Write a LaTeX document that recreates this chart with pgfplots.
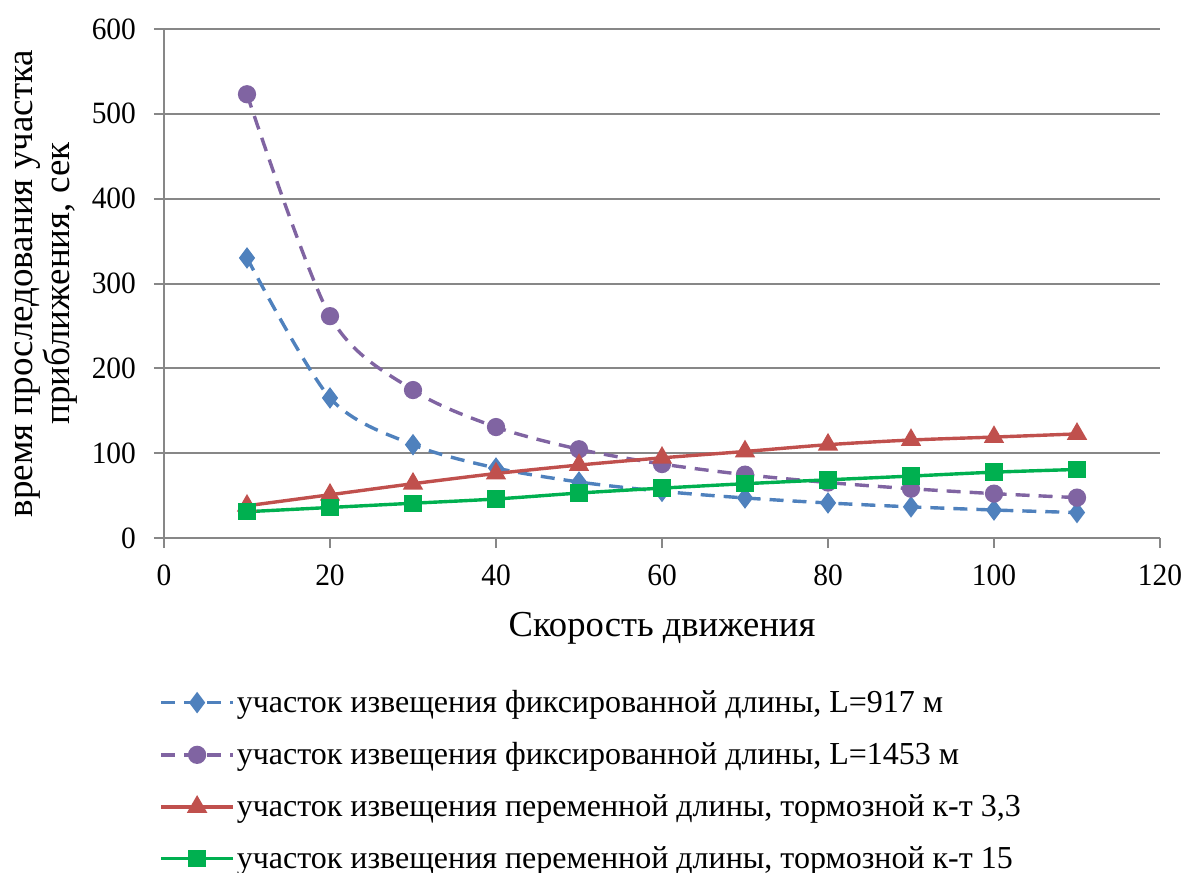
\documentclass[border=0pt]{standalone}
\usepackage{fontspec}
\setmainfont{Liberation Serif}
\newfontfamily\tickfont[FakeStretch=0.95]{Liberation Serif}
\usepackage{pgfplots}
\pgfplotsset{compat=1.18}
\definecolor{cblue}{HTML}{4F81BD}
\definecolor{cpurple}{HTML}{8064A2}
\definecolor{cred}{HTML}{C0504D}
\definecolor{cgreen}{HTML}{00B050}
\definecolor{cgrid}{HTML}{878787}
\pgfplotstableread{
v blue purple red green
10 330.1 523.1 38 31
20 165.1 261.5 51 36
30 110.0 174.4 64 41
40 82.5 130.8 76 46
50 66.0 104.6 86 53
60 55.0 87.2 94.5 58.8
70 47.2 74.7 102 64
80 41.3 65.4 110 68.6
90 36.7 58.1 115.5 73
100 33.0 52.3 119 77.6
110 30.0 47.6 122.7 80.8
}\datatable
\begin{document}
\begin{tikzpicture}[x=1pt,y=1pt]
\useasboundingbox (-82pt,-167.5pt) rectangle (510pt,269pt);
\begin{axis}[
  at={(0pt,0pt)}, anchor=origin,
  scale only axis, width=498pt, height=254.5pt,
  xmin=0, xmax=120, ymin=0, ymax=600,
  xtick={0,20,...,120}, ytick={0,100,...,600},
  axis x line*=bottom, axis y line*=left,
  axis line style={cgrid, line width=1pt, -},
  ymajorgrids, grid style={cgrid, line width=1pt},
  tick style={cgrid, line width=1pt},
  tick align=outside, major tick length=5pt,
  every tick label/.append style={font=\tickfont\fontsize{15.5}{18}\selectfont},
  xticklabel style={yshift=-5pt},
  yticklabel style={xshift=-5.5pt},
  /pgf/number format/assume math mode=true,
  xlabel={Скорость движения},
  xlabel style={font=\fontsize{18.3}{22}\selectfont, yshift=-6.5pt},
  ylabel={время проследования участка\\приближения, сек},
  ylabel style={font=\fontsize{18.5}{18.5}\selectfont, align=center,
    at={(axis description cs:-0.1185,0.5)}, anchor=center, rotate=0},
  legend style={draw=none, fill=none, at={(-0.005,-0.29)}, anchor=north west,
    font=\fontsize{16}{18}\selectfont, row sep=9.5pt, legend cell align=left,
    inner xsep=0pt, inner ysep=0pt, nodes={inner xsep=1pt}},
  legend cell align=left,
  legend image code/.code={%
    \draw[mark repeat=2,mark phase=2,#1] plot coordinates {(0pt,0pt) (18pt,0pt) (36pt,0pt)};},
]
\addplot[cblue, line width=1.7pt, dash pattern=on 7pt off 4.5pt, smooth, tension=0.5,
  mark=diamond*, mark size=4pt, mark options={solid, fill=cblue}]
  table[x=v, y=blue] {\datatable};
\addlegendentry{участок извещения фиксированной длины, L=917 м}
\addplot[cpurple, line width=1.7pt, dash pattern=on 7pt off 4.5pt, smooth, tension=0.5,
  mark=*, mark size=3.7pt, mark options={solid, fill=cpurple}]
  table[x=v, y=purple] {\datatable};
\addlegendentry{участок извещения фиксированной длины, L=1453 м}
\addplot[cred, line width=1.7pt, smooth, tension=0.5,
  mark=triangle*, mark size=4.2pt, mark options={solid, fill=cred}]
  table[x=v, y=red] {\datatable};
\addlegendentry{участок извещения переменной длины, тормозной к-т 3,3}
\addplot[cgreen, line width=1.7pt, smooth, tension=0.5,
  mark=square*, mark size=3.5pt, mark options={solid, fill=cgreen}]
  table[x=v, y=green] {\datatable};
\addlegendentry{участок извещения переменной длины, тормозной к-т 15}
\end{axis}
\end{tikzpicture}
\end{document}
